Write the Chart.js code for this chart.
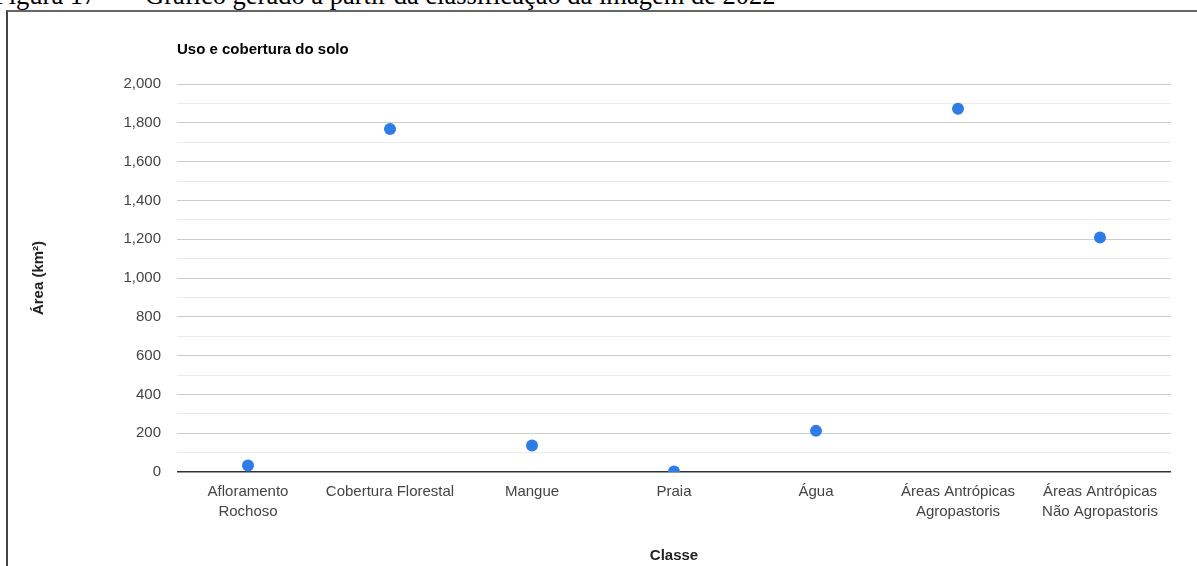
<!DOCTYPE html>
<html>
<head>
<meta charset="utf-8">
<script src="https://cdn.jsdelivr.net/npm/chart.js@4.4.0/dist/chart.umd.min.js"></script>
<style>
  html, body { margin: 0; padding: 0; background: #fff; overflow: hidden; }
  body { width: 1197px; height: 566px; position: relative; }
  .legenda { position: absolute; top: -18px; left: 0; font-family: "Liberation Serif", "Times New Roman", serif; font-size: 26.5px; line-height: 26px; color: #000; white-space: nowrap; }
  .legenda span { position: absolute; top: 0; }
  .moldura { position: absolute; left: 6px; top: 10px; width: 1300px; height: 700px; border-top: 2px solid #666; border-left: 2px solid #444; }
  #grafico { position: absolute; left: 0; top: 0; }
</style>
</head>
<body>
<div class="legenda"><span style="left:-6px">Figura 17 –</span><span style="left:145px">Gráfico gerado a partir da classificação da imagem de 2022</span></div>
<div class="moldura"></div>
<canvas id="grafico" width="1197" height="566"></canvas>
<script>
// dados
const classes = [
  ['Afloramento', 'Rochoso'],
  'Cobertura Florestal',
  'Mangue',
  'Praia',
  'Água',
  ['Áreas Antrópicas', 'Agropastoris'],
  ['Áreas Antrópicas', 'Não Agropastoris']
];
const areas = [33, 1768, 136, 3, 212, 1873, 1209];
const eixoYMin = 0;
const eixoYMax = 2000;
const passoGrade = 100;
const passoRotulo = 200;

Chart.defaults.font.family = 'Arial, "Liberation Sans", sans-serif';

const ctxSolo = document.getElementById('grafico').getContext('2d');

const graficoSolo = new Chart(ctxSolo, {
  type: 'line',
  data: {
    labels: classes,
    datasets: [{
      label: 'Área (km²)',
      data: areas,
      showLine: false,
      pointRadius: 6,
      pointHoverRadius: 6,
      pointBackgroundColor: '#2f7be8',
      pointBorderWidth: 0
    }]
  },
  options: {
    responsive: false,
    animation: false,
    layout: {
      padding: { left: 28, right: 26, top: 10, bottom: 0 }
    },
    plugins: {
      legend: { display: false },
      tooltip: { enabled: false },
      title: {
        display: true,
        text: 'Uso e cobertura do solo',
        align: 'start',
        fullSize: false,
        color: '#000',
        font: { size: 15, weight: 'bold' },
        padding: { top: 31, bottom: 25 }
      }
    },
    scales: {
      y: {
        min: eixoYMin,
        max: eixoYMax,
        border: { display: false },
        grid: {
          drawTicks: false,
          color: c => c.tick.value === 0 ? '#333' : (c.tick.value % passoRotulo === 0 ? '#cccccc' : '#ebebeb'),
          lineWidth: c => c.tick.value === 0 ? 1.5 : 1
        },
        ticks: {
          stepSize: passoGrade,
          autoSkip: false,
          color: '#444',
          padding: 16,
          font: { size: 15 },
          callback: v => v % passoRotulo === 0 ? v.toLocaleString('en-US') : ''
        },
        title: {
          display: true,
          text: 'Área (km²)',
          color: '#222',
          font: { size: 15, weight: 'bold' },
          padding: { top: 2, bottom: 0 }
        },
        afterFit: s => { s.width = 149; }
      },
      x: {
        offset: true,
        border: { display: false },
        grid: { display: false, offset: true },
        ticks: {
          color: '#444',
          padding: 2,
          maxRotation: 0,
          autoSkip: false,
          font: { size: 15, lineHeight: 1.33 }
        },
        title: {
          display: true,
          text: 'Classe',
          color: '#222',
          font: { size: 15, weight: 'bold' },
          padding: { top: 0, bottom: 1 }
        },
        afterFit: s => { s.height = 94; }
      }
    }
  }
});
</script>
</body>
</html>
